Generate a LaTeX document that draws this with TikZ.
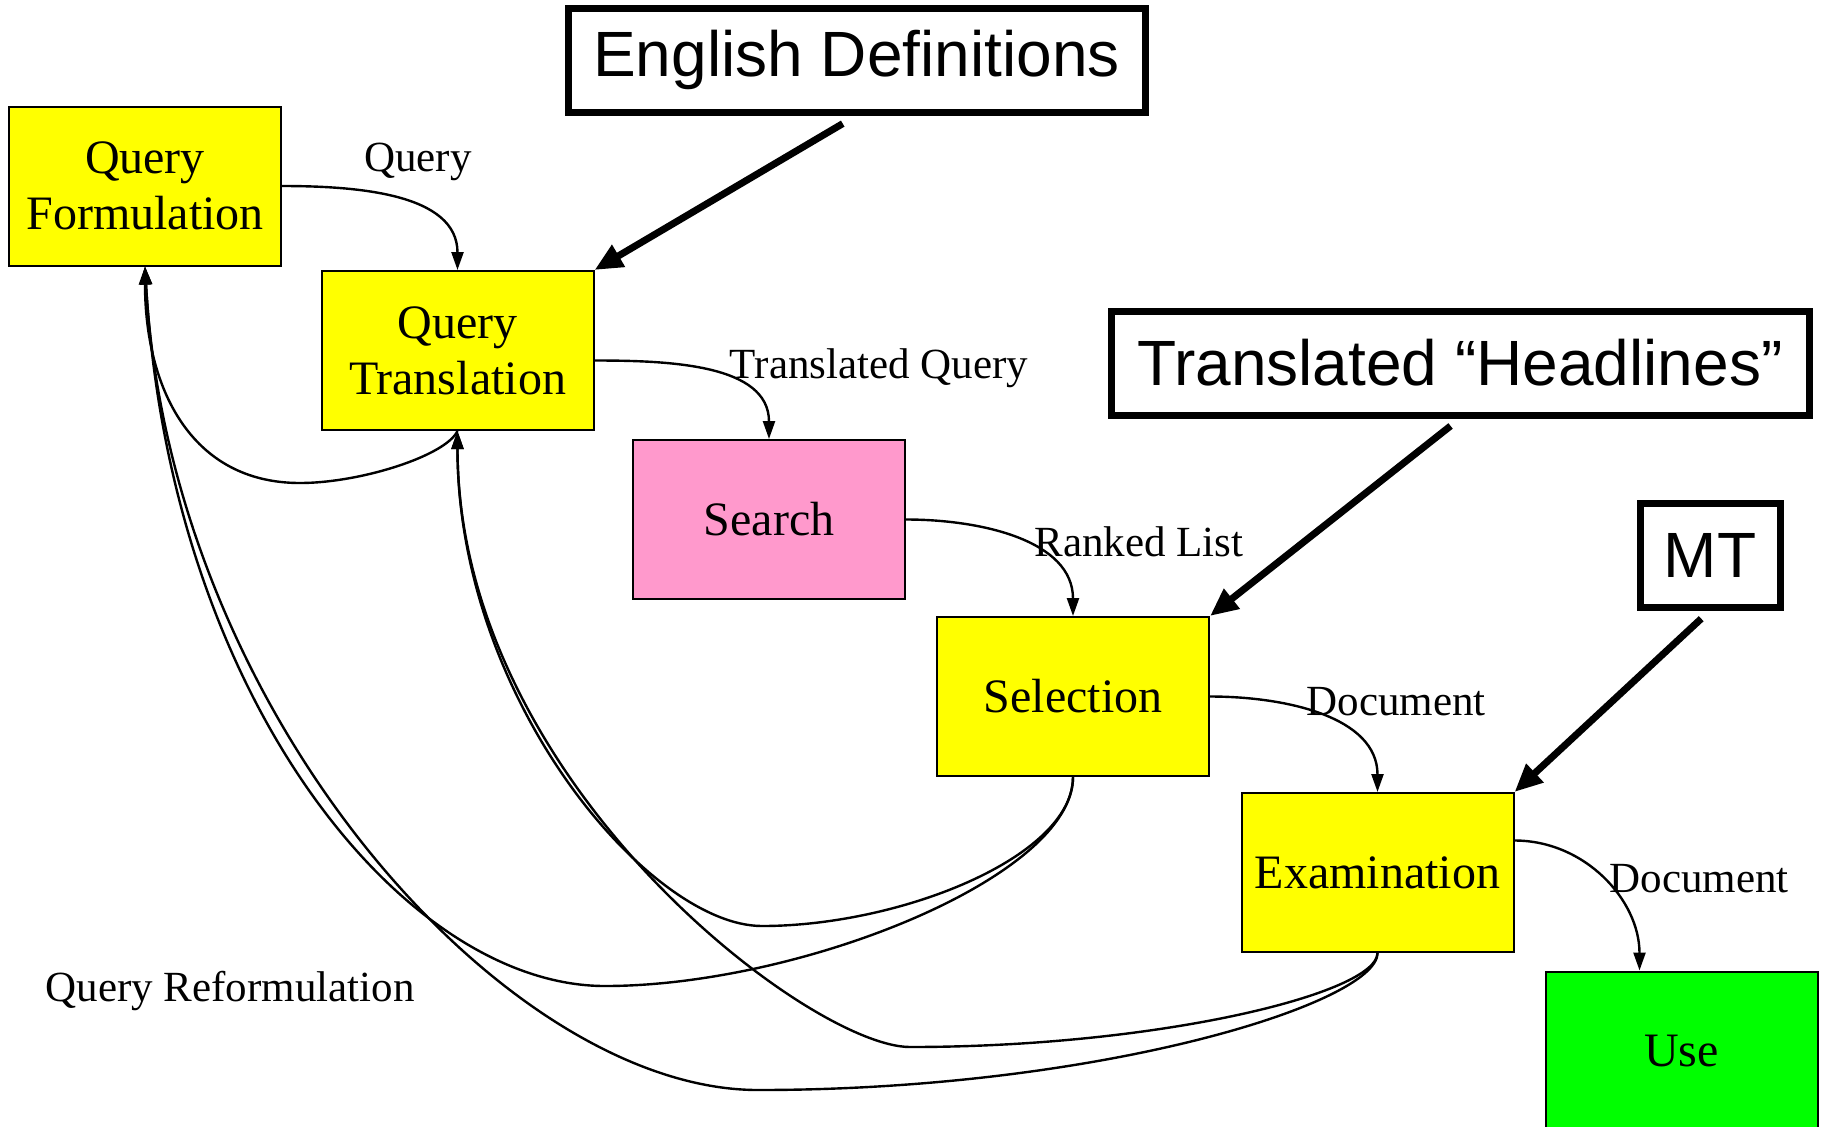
\documentclass[tikz,border=0pt]{standalone}
\usepackage{fontspec}
\setmainfont{Liberation Serif}
\newfontfamily\arialfont{Liberation Sans}
\usetikzlibrary{arrows.meta}

\definecolor{stageyellow}{RGB}{255,255,0}
\definecolor{stagepink}{RGB}{255,153,204}
\definecolor{stagegreen}{RGB}{0,255,0}

\begin{document}
\begin{tikzpicture}[x=0.5pt,y=0.5pt,
  stage/.style={draw,line width=1pt,minimum width=136pt,minimum height=79.5pt,
    align=center,inner sep=0pt,font=\fontsize{24}{28}\selectfont},
  source/.style={draw,line width=3.5pt,minimum height=52pt,inner sep=0pt,
    font=\arialfont\fontsize{32}{38}\selectfont},
  lbl/.style={inner sep=0pt,font=\fontsize{21.5}{25}\selectfont},
  flow/.style={line width=1.2pt,-{Triangle[length=9pt,width=6pt]}},
  bold/.style={line width=3.5pt,-{Triangle[length=14pt,width=12pt]}}]
\useasboundingbox (0,0) rectangle (1821,-1126);

\node[stage,fill=stageyellow] (qf) at (145,-186) {Query\\Formulation};
\node[stage,fill=stageyellow] (qt) at (457.5,-350.5) {Query\\Translation};
\node[stage,fill=stagepink] (search) at (769,-519.5) {Search};
\node[stage,fill=stageyellow] (sel) at (1073,-696.5) {Selection};
\node[stage,fill=stageyellow] (exam) at (1377.5,-872.5) {Examination};
\node[stage,fill=stagegreen] (use) at (1681.5,-1051) {Use};

\node[source,minimum width=288.5pt] (engdef) at (856.5,-60) {English Definitions};
\node[source,minimum width=349pt] (headl) at (1460,-363) {Translated “Headlines”};
\node[source,minimum width=70pt] (mt) at (1710,-555) {MT};

\node[lbl] (lquery) at (418,-162) {Query};
\node[lbl] (ltrans) at (879,-368) {Translated Query};
\node[lbl] (lrank) at (1139,-542) {Ranked List};
\node[lbl] (ldoca) at (1396,-702) {Document};
\node[lbl] (ldocb) at (1699,-879) {Document};
\node[lbl] (lreform) at (230,-991) {Query Reformulation};

% main flow
\draw[flow] (qf.east) to[out=0,in=90] (qt.north);
\draw[flow] ([yshift=-5pt]qt.east) to[out=0,in=90] (search.north);
\draw[flow] (search.east) to[out=0,in=90] (sel.north);
\draw[flow] (sel.east) to[out=0,in=90] (exam.north);
\draw[flow] ([yshift=16pt]exam.east) to[out=0,in=90] ([xshift=-21pt]use.north);

% resources
\draw[bold,shorten <=8pt] (engdef.south) -- (qt.north east);
\draw[bold,shorten <=6pt] (headl.south) -- (sel.north east);
\draw[bold,shorten <=6pt] (mt.south) -- (exam.north east);

% feedback
\coordinate (low1) at (762,-926);
\coordinate (low2) at (605,-986);
\coordinate (low3) at (910,-1047);
\coordinate (low4) at (758,-1090);
\coordinate (low5) at (300,-483);
\draw[flow] (sel.south) .. controls +(0,-80) and +(138,0) .. (low1)
  .. controls +(-112,0) and +(0,-270) .. (qt.south);
\draw[flow] (sel.south) .. controls +(0,-100) and +(195,0) .. (low2)
  .. controls +(-200,0) and +(25,-434) .. (qf.south);
\draw[flow] (exam.south) .. controls +(0,-40) and +(250,0) .. (low3)
  .. controls +(-100,0) and +(0,-350) .. (qt.south);
\draw[flow] (exam.south) .. controls +(0,-50) and +(342,0) .. (low4)
  .. controls +(-250,0) and +(25,-450) .. (qf.south);
\draw[flow] (qt.south) .. controls +(-12,-25) and +(60,0) .. (low5)
  .. controls +(-110,0) and +(0,-120) .. (qf.south);
\end{tikzpicture}
\end{document}
